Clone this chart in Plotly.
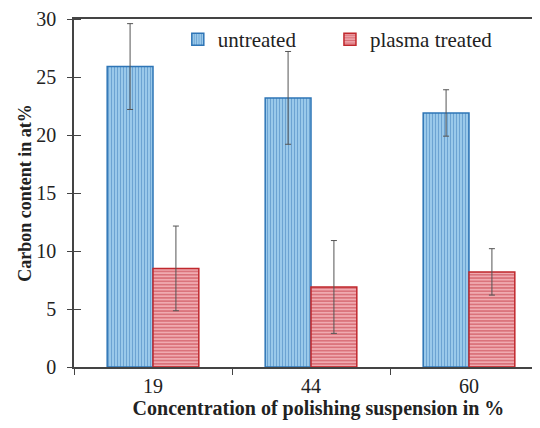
import plotly.graph_objects as go

categories = ["19", "44", "60"]
untreated = [25.9, 23.2, 21.9]
untreated_err = [3.7, 4.0, 2.0]
plasma = [8.5, 6.9, 8.2]
plasma_err = [3.65, 4.0, 2.0]

FONT = "Liberation Serif"

fig = go.Figure()
fig.add_trace(go.Bar(
    x=categories, y=untreated, name="untreated", legend="legend",
    marker=dict(color="#a9d5f2",
                line=dict(color="#2e75b6", width=1.5),
                pattern=dict(shape="|", fgcolor="#2f72b2", bgcolor="#a9d5f2", size=3, solidity=0.5)),
    error_y=dict(type="data", array=untreated_err, color="#555555", thickness=1, width=3),
))
fig.add_trace(go.Bar(
    x=categories, y=plasma, name="plasma treated", legend="legend2",
    marker=dict(color="#eda3a8",
                line=dict(color="#c0282d", width=1.5),
                pattern=dict(shape="-", fgcolor="#c0303a", bgcolor="#f0aab0", size=3.3, solidity=0.45)),
    error_y=dict(type="data", array=plasma_err, color="#555555", thickness=1, width=3),
))

legend_common = dict(orientation="h", y=1.0, xanchor="left", yanchor="top",
                     font=dict(family=FONT, size=21, color="#222222"),
                     bgcolor="rgba(0,0,0,0)")

fig.update_layout(
    width=540, height=428,
    margin=dict(l=66, r=0, t=11, b=69, autoexpand=False),
    paper_bgcolor="white", plot_bgcolor="white",
    barmode="group", bargap=0.42, bargroupgap=0,
    font=dict(family=FONT, size=18, color="#222222"),
    showlegend=True,
    legend=dict(x=0.219, **legend_common),
    legend2=dict(x=0.540, **legend_common),
    xaxis=dict(
        type="category", range=[-0.5, 2.5], automargin=False,
        showline=True, linecolor="#444444", linewidth=1.5, mirror=True,
        ticks="outside", ticklen=6, tickcolor="#444444", tickson="boundaries",
        tickfont=dict(family=FONT, size=20),
        title=dict(text="&nbsp;&nbsp;&nbsp;<b>Concentration of polishing suspension in %</b>",
                   font=dict(family=FONT, size=20), standoff=4),
        showgrid=False,
    ),
    yaxis=dict(
        range=[0, 30], dtick=5, automargin=False,
        showline=True, linecolor="#444444", linewidth=1.5,
        ticks="outside", ticklen=5, tickcolor="#444444",
        minor=dict(ticks="inside", ticklen=7, dtick=5, tickcolor="#444444", showgrid=False),
        ticklabelstandoff=7,
        tickfont=dict(family=FONT, size=20),
        title=dict(text="<b>Carbon content in at%</b>",
                   font=dict(family=FONT, size=18), standoff=0),
        showgrid=False, zeroline=False,
    ),
)

fig.write_html("out.html")
